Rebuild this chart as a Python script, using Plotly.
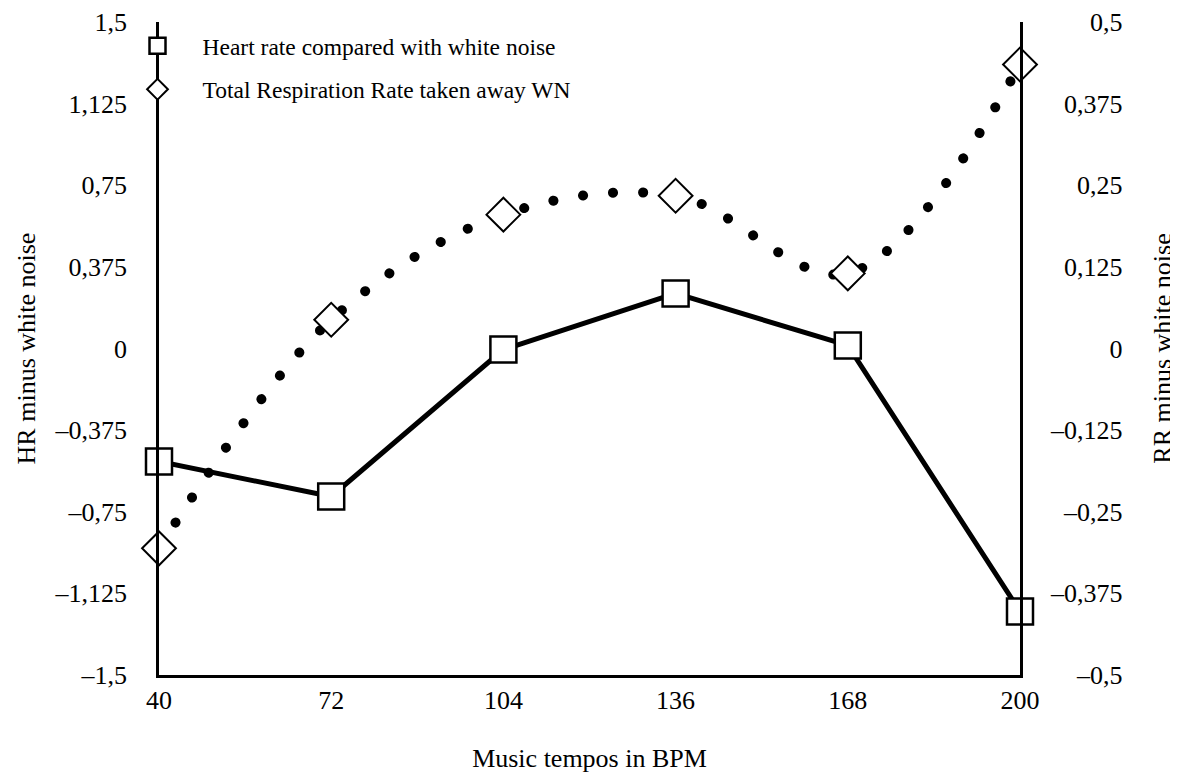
import plotly.graph_objects as go

tempos = [40, 72, 104, 136, 168, 200]
hr_values = [-0.519, -0.680, -0.005, 0.253, 0.014, -1.208]
rr_values = [-0.306, 0.044, 0.205, 0.234, 0.115, 0.435]

hr_tickvals = [-1.5, -1.125, -0.75, -0.375, 0, 0.375, 0.75, 1.125, 1.5]
hr_ticktext = ["–1,5", "–1,125", "–0,75", "–0,375", "0", "0,375", "0,75", "1,125", "1,5"]
rr_tickvals = [-0.5, -0.375, -0.25, -0.125, 0, 0.125, 0.25, 0.375, 0.5]
rr_ticktext = ["–0,5", "–0,375", "–0,25", "–0,125", "0", "0,125", "0,25", "0,375", "0,5"]
x_tickvals = [40, 72, 104, 136, 168, 200]

FONT = "Liberation Serif"
FS = 26


def em_width(s):
    # Times-metric widths (in em) for the characters used in tick labels
    w = {",": 0.25, "–": 0.5}
    return sum(w.get(c, 0.5) for c in s)


def right_align(labels):
    # pad with en spaces (0.5em) / four-per-em spaces (0.25em) so right-side labels align right
    mx = max(em_width(s) for s in labels)
    out = []
    for s in labels:
        d = mx - em_width(s)
        n_en = int(d // 0.5)
        rest = d - n_en * 0.5
        pad = "\u2002" * n_en + ("\u2005" if rest >= 0.24 else "")
        out.append(pad + s)
    return out


fig = go.Figure()

# dotted smooth RR curve
fig.add_trace(go.Scatter(
    x=tempos, y=rr_values, yaxis="y2", mode="lines",
    line=dict(color="black", width=10, dash="0.1px,30px", shape="spline", smoothing=1.0),
    showlegend=False, hoverinfo="skip", cliponaxis=False,
))
# HR line
fig.add_trace(go.Scatter(
    x=tempos, y=hr_values, mode="lines",
    line=dict(color="black", width=5),
    showlegend=False, cliponaxis=False,
))
# HR markers
fig.add_trace(go.Scatter(
    x=tempos, y=hr_values, mode="markers",
    name="Heart rate compared with white noise", legendgroup="hr",
    marker=dict(symbol="square", size=26, color="white", line=dict(color="black", width=2.5)),
    cliponaxis=False,
))
# RR markers
fig.add_trace(go.Scatter(
    x=tempos, y=rr_values, yaxis="y2", mode="markers",
    name="Total Respiration Rate taken away WN", legendgroup="rr",
    marker=dict(symbol="diamond", size=26, color="white", line=dict(color="black", width=2)),
    cliponaxis=False,
))

axis_common = dict(
    showgrid=False, zeroline=False, showline=True, linecolor="black", linewidth=2.5,
    ticks="outside", tickcolor="rgba(0,0,0,0)", automargin=False,
    tickfont=dict(size=FS, family=FONT),
)

fig.update_layout(
    width=1178, height=772,
    margin=dict(l=151, r=166, t=14, b=105),
    paper_bgcolor="white", plot_bgcolor="white",
    font=dict(family=FONT, size=FS, color="black"),
    xaxis=dict(
        range=[40, 200], tickvals=x_tickvals, ticktext=[str(v) for v in x_tickvals],
        ticklen=0,
        title=dict(text="Music tempos in BPM", standoff=35, font=dict(size=FS)),
        **axis_common,
    ),
    yaxis=dict(
        range=[-1.5, 1.5], tickvals=hr_tickvals, ticktext=hr_ticktext,
        ticklen=24,
        title=dict(text="HR minus white noise", standoff=12, font=dict(size=FS)),
        **axis_common,
    ),
    yaxis2=dict(
        range=[-0.5, 0.5], tickvals=rr_tickvals, ticktext=right_align(rr_ticktext),
        overlaying="y", side="right",
        ticklen=23,
        title=dict(text="RR minus white noise", standoff=32, font=dict(size=FS)),
        **axis_common,
    ),
    legend=dict(
        x=-0.054, y=0.997, xanchor="left", yanchor="top",
        bgcolor="rgba(0,0,0,0)", borderwidth=0,
        font=dict(size=23.5, family=FONT), itemwidth=80, tracegroupgap=10,
    ),
    showlegend=True,
)

post = """
document.querySelectorAll('.scatterlayer .trace path.js-line').forEach(function(p){
  p.style.strokeLinecap = 'round';
});
"""
fig.write_html("out.html", post_script=post)
